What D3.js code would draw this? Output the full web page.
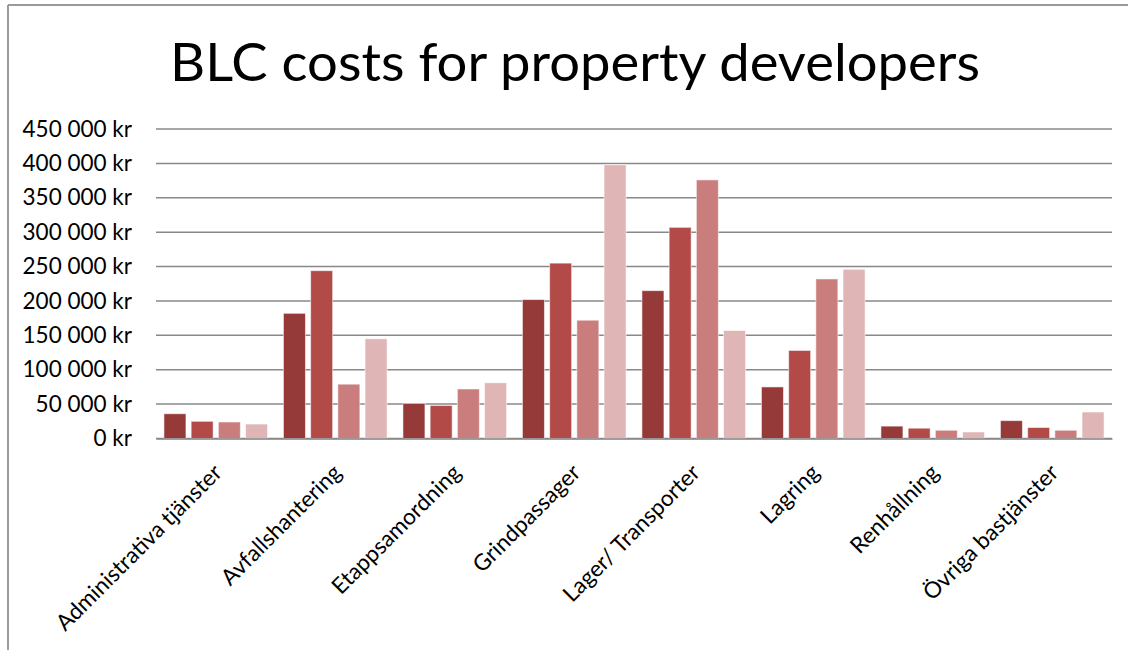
<!DOCTYPE html>
<html>
<head>
<meta charset="utf-8">
<script src="https://cdn.jsdelivr.net/npm/d3@7"></script>
<style>
  html, body { margin: 0; padding: 0; background: #fff; }
  svg { display: block; font-family: Lato, "Open Sans", sans-serif; }
</style>
</head>
<body>
<svg id="chart" width="1128" height="650"></svg>
<script>
// Cost categories along the x axis
const categories = [
  "Administrativa tjänster",
  "Avfallshantering",
  "Etappsamordning",
  "Grindpassager",
  "Lager/ Transporter",
  "Lagring",
  "Renhållning",
  "Övriga bastjänster"
];

// Four cost series per category (kr)
const series1 = [36000, 182000, 51000, 202000, 215000, 75000, 18000, 26000];
const series2 = [25000, 244000, 48000, 255000, 307000, 128000, 15000, 16000];
const series3 = [24000, 79000, 72000, 172000, 376000, 232000, 12000, 12000];
const series4 = [21000, 145000, 81000, 398000, 157000, 246000, 9500, 38500];

const seriesList = [series1, series2, series3, series4];
const seriesColors = ["#963a39", "#b24b48", "#c97d7c", "#dfb5b5"];

// Y axis tick values
const yTicks = [0, 50000, 100000, 150000, 200000, 250000, 300000, 350000, 400000, 450000];

const svg = d3.select("#chart");

// Frame lines (top and left)
svg.append("line").attr("x1", 8).attr("x2", 1128).attr("y1", 5).attr("y2", 5)
  .attr("stroke", "#9a9a9a").attr("stroke-width", 2);
svg.append("line").attr("x1", 8).attr("x2", 8).attr("y1", 5).attr("y2", 650)
  .attr("stroke", "#9a9a9a").attr("stroke-width", 2);

// Title
svg.append("text")
  .attr("x", 575).attr("y", 81)
  .attr("text-anchor", "middle")
  .attr("font-size", 52)
  .attr("textLength", 810)
  .attr("lengthAdjust", "spacingAndGlyphs")
  .attr("fill", "#000")
  .text("BLC costs for property developers");

const plot = { left: 156, right: 1112, top: 129, bottom: 438.5 };

const x0 = d3.scaleBand()
  .domain(categories)
  .range([plot.left, plot.right])
  .paddingInner(0).paddingOuter(0);

const x1 = d3.scaleBand()
  .domain(d3.range(seriesList.length))
  .range([0, x0.bandwidth()])
  .paddingInner(0.191).paddingOuter(0.292);

const y = d3.scaleLinear().domain([0, 450000]).range([plot.bottom, plot.top]);

const fmt = v => d3.format(",")(v).replace(/,/g, " ") + " kr";

// Gridlines
svg.append("g").selectAll("line")
  .data(yTicks)
  .join("line")
  .attr("x1", plot.left).attr("x2", plot.right)
  .attr("y1", d => y(d)).attr("y2", d => y(d))
  .attr("stroke", "#888").attr("stroke-width", 1.5);

// Y axis labels
const yAxis = svg.append("g")
  .attr("transform", `translate(${plot.left},0)`)
  .call(d3.axisLeft(y).tickValues(yTicks).tickFormat(fmt).tickSize(0).tickPadding(24));
yAxis.select(".domain").remove();
yAxis.selectAll("text")
  .attr("font-size", 22.5)
  .attr("font-family", "Lato, sans-serif")
  .attr("fill", "#000");

// Bars
const groups = svg.append("g").selectAll("g")
  .data(categories)
  .join("g")
  .attr("transform", d => `translate(${x0(d)},0)`);

groups.selectAll("rect")
  .data((d, i) => seriesList.map((s, k) => ({ k, v: s[i] })))
  .join("rect")
  .attr("x", d => x1(d.k))
  .attr("width", x1.bandwidth())
  .attr("y", d => y(d.v))
  .attr("height", d => y(0) - y(d.v))
  .attr("fill", d => seriesColors[d.k])
  .attr("stroke", "rgba(255,255,255,0.55)")
  .attr("stroke-width", 1);

// Category axis
const xAxis = svg.append("g")
  .attr("transform", `translate(0,${plot.bottom})`)
  .call(d3.axisBottom(x0).tickSize(0).tickPadding(0));
xAxis.select(".domain")
  .attr("stroke", "#888").attr("stroke-width", 1.5);
xAxis.selectAll("text")
  .attr("font-size", 22.5)
  .attr("font-family", "Lato, sans-serif")
  .attr("fill", "#000")
  .attr("text-anchor", "end")
  .attr("x", 0).attr("y", 0)
  .attr("dy", "0.35em")
  .attr("transform", "translate(2,30) rotate(-45)");
</script>
</body>
</html>
